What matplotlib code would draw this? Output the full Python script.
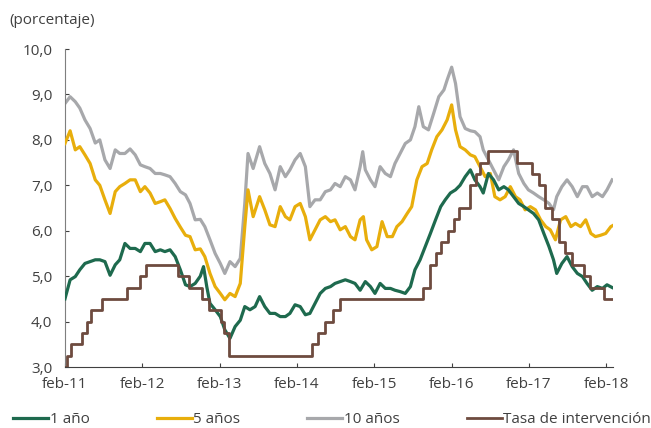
import matplotlib
matplotlib.use("Agg")
import matplotlib.pyplot as plt

plt.rcParams['font.family'] = ['Open Sans', 'DejaVu Sans']

# x values are months counted from feb-2011
tick_pos = [0, 12, 24, 36, 48, 60, 72, 84]
tick_lab = ["feb-11", "feb-12", "feb-13", "feb-14", "feb-15", "feb-16", "feb-17", "feb-18"]

m_10 = [0, 0.8, 1.6, 2.3, 3.1, 3.9, 4.7, 5.4, 6.2, 7.0, 7.8, 8.5, 9.3, 10.1, 10.9, 11.7, 12.4, 13.2,
        14.0, 14.8, 15.5, 16.3, 17.1, 17.9, 18.7, 19.4, 20.2, 21.0,
        21.7, 22.5, 23.3, 24.1, 24.8, 25.6, 26.4, 27.2, 27.9, 28.4, 29.2, 30.2, 31.0, 31.8, 32.6,
        33.4, 34.2, 34.9, 35.7, 36.5, 37.3, 38.0, 38.8, 39.6, 40.4, 41.2, 41.9,
        42.7, 43.5, 44.3, 45.0, 45.8, 46.2, 46.6, 47.4, 48.1, 48.9, 49.7, 50.5, 51.2, 52.0, 52.8,
        53.6, 54.3, 54.9, 55.6, 56.4, 57.2, 58.0, 58.8, 59.3, 60.0, 60.6, 61.3, 62.1, 62.9,
        63.6, 64.4, 64.9, 65.7, 66.5, 67.3, 68.1, 68.8, 69.6, 70.4, 71.2, 71.9, 72.7, 73.5, 74.3,
        75.1, 75.8, 76.3, 77.1, 77.9, 78.7, 79.5, 80.3, 81.0, 81.8, 82.6, 83.4, 84.1, 84.9]
v_10 = [8.8, 8.95, 8.84, 8.7, 8.44, 8.25, 7.93, 8.0, 7.56, 7.37, 7.78, 7.7, 7.7, 7.8, 7.67, 7.45, 7.41, 7.37,
        7.26, 7.26, 7.23, 7.19, 7.04, 6.86, 6.79, 6.6, 6.24, 6.25,
        6.09, 5.8, 5.5, 5.28, 5.06, 5.32, 5.21, 5.39, 6.6, 7.7, 7.37, 7.85, 7.48, 7.26, 6.9,
        7.41, 7.19, 7.34, 7.56, 7.7, 7.41, 6.53, 6.68, 6.68, 6.86, 6.9, 7.04,
        6.97, 7.19, 7.12, 6.9, 7.41, 7.74, 7.34, 7.12, 6.97, 7.41, 7.26, 7.19, 7.48, 7.7, 7.92,
        8.0, 8.29, 8.73, 8.29, 8.22, 8.58, 8.95, 9.1, 9.32, 9.6, 9.24, 8.51, 8.25, 8.2,
        8.18, 8.07, 7.78, 7.56, 7.34, 7.12, 7.41, 7.56, 7.78, 7.26, 7.04, 6.9, 6.83, 6.75, 6.68,
        6.6, 6.46, 6.75, 6.97, 7.12, 6.97, 6.75, 6.97, 6.97, 6.75, 6.83, 6.75, 6.9, 7.12]

m_5 = [0, 0.8, 1.6, 2.3, 3.1, 3.9, 4.7, 5.4, 6.2, 7.0, 7.8, 8.5, 9.3, 10.1, 10.9, 11.7, 12.4, 13.2,
       14.0, 14.8, 15.5, 16.3, 17.1, 17.9, 18.7, 19.4, 20.2, 21.0,
       21.7, 22.5, 23.3, 24.1, 24.8, 25.6, 26.4, 27.2, 27.9, 28.4, 29.2, 30.2, 31.0, 31.8, 32.6,
       33.4, 34.2, 34.9, 35.7, 36.5, 37.3, 38.0, 38.8, 39.6, 40.4, 41.2, 41.9,
       42.7, 43.5, 44.3, 45.0, 45.8, 46.3, 46.8, 47.6, 48.4, 49.2, 50.0, 50.8, 51.5, 52.3, 53.1,
       53.8, 54.6, 55.4, 56.2, 56.9, 57.7, 58.5, 59.3, 60.0, 60.6, 61.3, 62.1, 62.9,
       63.6, 64.4, 65.2, 66.0, 66.7, 67.5, 68.3, 69.1, 69.9, 70.6, 71.4, 72.2, 73.0, 73.8, 74.6,
       75.3, 76.1, 76.9, 77.7, 78.5, 79.2, 80.0, 80.8, 81.6, 82.3, 83.1, 83.9, 84.7, 85.2]
v_5 = [7.92, 8.2, 7.78, 7.85, 7.67, 7.48, 7.12, 7.0, 6.68, 6.38, 6.86, 6.97, 7.04, 7.12, 7.12, 6.86, 6.97, 6.83,
       6.6, 6.64, 6.68, 6.49, 6.27, 6.08, 5.9, 5.87, 5.58, 5.6,
       5.43, 5.06, 4.77, 4.62, 4.48, 4.62, 4.55, 4.84, 6.09, 6.9, 6.31, 6.75, 6.46, 6.13, 6.09,
       6.53, 6.31, 6.24, 6.53, 6.6, 6.31, 5.8, 6.02, 6.24, 6.31, 6.2, 6.24,
       6.02, 6.09, 5.87, 5.8, 6.24, 6.31, 5.8, 5.58, 5.65, 6.2, 5.87, 5.87, 6.09, 6.2, 6.38,
       6.53, 7.12, 7.41, 7.48, 7.78, 8.07, 8.22, 8.44, 8.77, 8.22, 7.85, 7.78, 7.67,
       7.63, 7.41, 7.19, 7.26, 6.75, 6.68, 6.75, 6.97, 6.75, 6.68, 6.46, 6.53, 6.46, 6.24, 6.09,
       6.02, 5.8, 6.24, 6.31, 6.09, 6.16, 6.09, 6.24, 5.94, 5.87, 5.9, 5.94, 6.09, 6.13]

m_1 = [0, 0.8, 1.6, 2.3, 3.1, 3.9, 4.7, 5.4, 6.2, 7.0, 7.8, 8.5, 9.3, 10.1, 10.9, 11.7, 12.4, 13.2,
       14.0, 14.8, 15.5, 16.3, 17.1, 17.9, 18.7, 19.4, 20.2, 21.0,
       21.5, 22.0, 22.5, 23.3, 24.1, 24.8, 25.6, 26.4, 27.2, 27.9, 28.7, 29.5, 30.2, 31.0, 31.8,
       32.6, 33.4, 34.2, 34.9, 35.7, 36.5, 37.3, 38.0, 38.8, 39.6, 40.4, 41.2, 41.9,
       42.7, 43.5, 44.3, 45.0, 45.8, 46.6, 47.4, 48.1, 48.9, 49.7, 50.5, 51.2, 52.0, 52.8, 53.6,
       54.3, 55.1, 55.9, 56.7, 57.5, 58.3, 59.0, 59.8, 60.6, 61.3, 62.1, 62.9,
       63.6, 64.4, 64.9, 65.7, 66.5, 67.3, 68.1, 68.8, 69.6, 70.4, 71.2, 71.9, 72.7, 73.5, 74.3,
       75.1, 75.8, 76.3, 77.1, 77.9, 78.7, 79.5, 80.3, 81.0, 81.8, 82.6, 83.4, 84.1, 84.9]
v_1 = [4.5, 4.92, 4.99, 5.14, 5.28, 5.32, 5.36, 5.36, 5.32, 5.02, 5.25, 5.36, 5.72, 5.61, 5.61, 5.54, 5.72, 5.72,
       5.54, 5.58, 5.54, 5.58, 5.43, 5.14, 4.81, 4.77, 4.84, 5.0,
       5.21, 4.77, 4.4, 4.26, 4.11, 3.82, 3.63, 3.89, 4.03, 4.33, 4.26, 4.33, 4.55, 4.33, 4.18,
       4.18, 4.11, 4.11, 4.18, 4.37, 4.33, 4.15, 4.18, 4.4, 4.62, 4.73, 4.77, 4.84,
       4.88, 4.92, 4.88, 4.84, 4.69, 4.88, 4.77, 4.62, 4.84, 4.73, 4.73, 4.69, 4.66, 4.62, 4.77,
       5.14, 5.36, 5.65, 5.94, 6.24, 6.53, 6.68, 6.83, 6.9, 7.0, 7.19, 7.34,
       7.12, 6.97, 6.83, 7.26, 7.12, 6.9, 6.97, 6.9, 6.75, 6.6, 6.53, 6.46, 6.38, 6.24, 5.94,
       5.65, 5.36, 5.06, 5.28, 5.43, 5.21, 5.06, 4.99, 4.84, 4.69, 4.77, 4.73, 4.81, 4.75]

# policy rate: month of change and new level
m_tasa = [0, 0.3, 1.0, 2.6, 3.4, 4.1, 5.7, 9.6, 11.6, 12.5, 17.5, 19.3, 21.3, 22.4, 24.2, 24.7, 25.4,
          38.3, 39.3, 40.3, 41.6, 42.7, 55.6, 56.7, 57.5, 58.4, 59.4, 60.3, 61.2, 62.9, 63.7, 64.4,
          65.7, 70.2, 72.5, 73.5, 74.5, 75.6, 76.7, 77.6, 78.7, 80.6, 81.5, 83.6, 85.1]
v_tasa = [3.0, 3.25, 3.5, 3.75, 4.0, 4.25, 4.5, 4.75, 5.0, 5.25, 5.0, 4.75, 4.5, 4.25, 4.0, 3.75, 3.25,
          3.5, 3.75, 4.0, 4.25, 4.5, 4.75, 5.25, 5.5, 5.75, 6.0, 6.25, 6.5, 7.0, 7.25, 7.5,
          7.75, 7.5, 7.25, 7.0, 6.5, 6.25, 5.75, 5.5, 5.25, 5.0, 4.75, 4.5, 4.5]

fig = plt.figure(figsize=(6.51, 4.28), dpi=100)
ax = fig.add_axes([0.0998, 0.1425, 0.8425, 0.743])

ax.plot(m_10, v_10, color="#a7a8ab", lw=2.3, label="10 años", zorder=2)
ax.plot(m_5, v_5, color="#e8ae0c", lw=2.3, label="5 años", zorder=3)
ax.plot(m_1, v_1, color="#1e6a4e", lw=2.3, label="1 año", zorder=4)
ax.step(m_tasa, v_tasa, where="post", color="#6e4b3f", lw=2.0, label="Tasa de intervención", zorder=5)

ax.set_xlim(0, 85.1)
ax.set_ylim(3, 10)
ax.set_yticks([3, 4, 5, 6, 7, 8, 9, 10])
ax.set_yticklabels(["3,0", "4,0", "5,0", "6,0", "7,0", "8,0", "9,0", "10,0"])
ax.set_xticks(tick_pos)
ax.set_xticklabels(tick_lab)
ax.tick_params(direction="in", length=3, labelsize=11, colors="#404040", pad=7)
ax.tick_params(axis="y", pad=9)

for s in ["top", "right"]:
    ax.spines[s].set_visible(False)
ax.spines["left"].set_color("#7f7f7f")
ax.spines["bottom"].set_color("#404040")

fig.text(0.015, 0.953, "(porcentaje)", fontsize=11, color="#404040", va="center")

h, l = ax.get_legend_handles_labels()
order = [2, 1, 0, 3]
fig.legend([h[i] for i in order], [l[i] for i in order], loc="center", ncol=4,
           bbox_to_anchor=(0.02, 0.0, 0.98, 0.04), mode="expand", frameon=False,
           fontsize=11, handlelength=2.3, handletextpad=0.1, labelcolor="#404040",
           borderaxespad=0, borderpad=0)

fig.savefig("out.png", dpi=100)
